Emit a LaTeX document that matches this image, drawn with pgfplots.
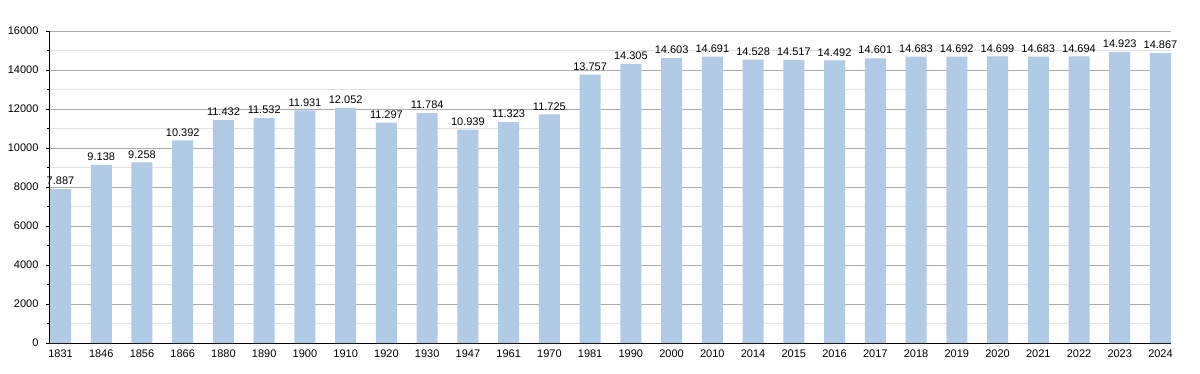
\documentclass[border=0pt]{standalone}
\usepackage{pgfplots}
\pgfplotsset{compat=1.18}
\usepackage{fontspec}
\setmainfont{Liberation Sans}
\definecolor{barblue}{RGB}{177,202,230}
\definecolor{majgrid}{RGB}{170,170,170}
\definecolor{mingrid}{RGB}{225,225,225}
\begin{document}
\begin{tikzpicture}[x=1pt,y=1pt]
\begin{axis}[
  at={(50pt,30pt)}, anchor=south west,
  scale only axis, width=1121pt, height=312pt,
  xmin=-0.258, xmax=27.258,
  ymin=0, ymax=16000,
  scaled y ticks=false,
  ytick={0,2000,...,16000},
  minor ytick={1000,3000,...,15000},
  ymajorgrids, yminorgrids,
  major grid style={majgrid, line width=0.8pt},
  minor grid style={mingrid, line width=0.8pt},
  axis x line*=bottom, axis y line*=left,
  axis line style={black, line width=1pt, -},
  xtick=data,
  xticklabels={1831,1846,1856,1866,1880,1890,1900,1910,1920,1930,1947,1961,1970,1981,1990,2000,2010,2014,2015,2016,2017,2018,2019,2020,2021,2022,2023,2024},
  x tick style={draw=none},
  y tick style={black, line width=0.8pt},
  tick align=outside,
  major tick length=4pt, minor tick length=3pt,
  tick label style={font=\fontsize{11}{13}\selectfont, text=black},
  xticklabel style={yshift=1pt},
  yticklabel style={xshift=-4pt},
  /pgf/number format/.cd, set thousands separator={}, assume math mode=true,
  /pgfplots/.cd,
  ybar, bar width=21pt,
  clip=false,
  nodes near coords={\pgfmathprintnumber[1000 sep={.},assume math mode=true]{\pgfplotspointmeta}},
  nodes near coords style={font=\fontsize{11}{13}\selectfont, text=black, inner sep=1pt, yshift=3pt},
]
\addplot[fill=barblue, draw=none] coordinates {
(0,7887) (1,9138) (2,9258) (3,10392) (4,11432) (5,11532) (6,11931) (7,12052)
(8,11297) (9,11784) (10,10939) (11,11323) (12,11725) (13,13757) (14,14305)
(15,14603) (16,14691) (17,14528) (18,14517) (19,14492) (20,14601) (21,14683)
(22,14692) (23,14699) (24,14683) (25,14694) (26,14923) (27,14867)
};
\end{axis}
\pgfresetboundingbox
\path[use as bounding box] (0,0) rectangle (1200pt,373pt);
\end{tikzpicture}
\end{document}
